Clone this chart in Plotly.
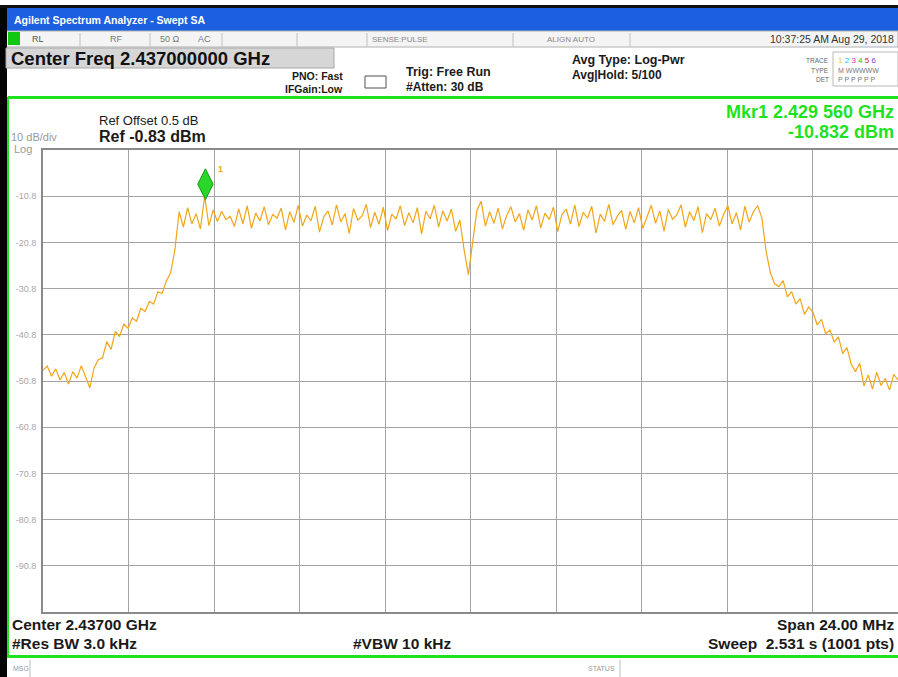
import plotly.graph_objects as go
import numpy as np

# --- analyzer settings -------------------------------------------------------
CENTER_GHZ = 2.437
SPAN_GHZ = 0.024
REF_DBM = -0.83
DB_PER_DIV = 10
MKR_FREQ = 2.42956
MKR_LEVEL = -10.832

# trace readings (dBm), 201 points over the span
EDGE_LEFT = [-48.5, -47.6, -49.8, -48.2, -50.6, -49.0, -51.5, -48.8, -50.2, -47.5,
             -49.9, -52.3, -48.0, -46.2]
SKIRT_LEFT = [-45.8, -42.3, -44.0, -40.1, -41.2, -38.5, -39.4, -37.2, -37.9, -35.1,
              -35.8, -33.6, -34.2, -31.5, -31.9, -29.2, -27.4, -22.5]
BAND_LOW = [-14.2, -17.5, -13.3, -16.8, -14.6, -17.9, -10.832, -17.2, -13.8,
            -16.3, -14.1, -15.9, -15.2, -17.4, -13.6, -16.8, -12.9, -17.8, -14.5,
            -16.2, -13.1, -17.0, -14.8, -15.6, -13.4, -18.1, -14.2, -16.5, -12.8,
            -17.3, -14.9, -16.1, -13.0, -18.6, -15.3, -14.0, -17.1, -12.7, -16.4,
            -14.6, -18.9, -13.5, -16.0, -15.1, -12.6, -17.6, -14.3, -16.9, -13.2,
            -18.3, -14.7, -15.8, -12.9, -17.2, -14.4, -16.6, -13.3, -19.0, -14.1,
            -15.7, -12.8, -17.5, -14.0, -16.2, -13.6, -18.4, -16.0]
CENTER_NOTCH = [-22.5, -27.8, -21.0]
BAND_HIGH = [-13.9, -11.9, -17.3, -14.2, -16.7, -13.4, -17.9, -15.0, -13.1, -16.4,
             -14.6, -18.2, -13.8, -16.0, -12.9, -17.7, -14.5, -15.9, -13.2, -18.5,
             -14.8, -13.6, -16.9, -12.7, -17.4, -14.3, -15.6, -13.0, -18.8, -14.7,
             -16.3, -12.6, -17.0, -15.2, -13.9, -18.0, -14.1, -16.6, -13.3, -17.8,
             -15.4, -12.8, -16.7, -14.0, -18.4, -13.7, -15.8, -14.9, -12.7, -17.5,
             -14.2, -16.1, -13.1, -18.7, -14.6, -15.9, -13.4, -17.3, -14.8, -12.9,
             -16.8, -14.4, -18.1, -13.0, -16.5, -14.2, -12.9, -15.5]
SKIRT_RIGHT = [-22.8, -27.4, -29.8, -30.4, -29.1, -32.6, -31.5, -34.2, -33.0, -36.4,
               -34.8, -35.9, -38.7, -37.5, -40.6, -39.8, -42.4, -41.3, -44.9, -43.6,
               -47.2, -48.8, -47.0, -51.9, -49.5, -52.6, -48.9, -51.8, -50.3, -52.8,
               -49.4, -50.6]

level = EDGE_LEFT + SKIRT_LEFT + BAND_LOW + CENTER_NOTCH + BAND_HIGH + SKIRT_RIGHT
f_start = CENTER_GHZ - SPAN_GHZ / 2
f_stop = CENTER_GHZ + SPAN_GHZ / 2
freq = np.linspace(f_start, f_stop, len(level))

y_top = REF_DBM
y_bot = REF_DBM - 10 * DB_PER_DIV
grid_vals = [REF_DBM - DB_PER_DIV * k for k in range(1, 10)]
grid_text = [f"{v:.1f}" for v in grid_vals]

# --- page geometry (pixels) --------------------------------------------------
W, H = 898, 677
PL, PR, PT, PB = 43, 898, 150, 612

GREEN = "#1fe21f"
TXT = "#1a1a1a"
FONT = "Liberation Sans, Arial, sans-serif"


def px(x):
    return (x - PL) / (PR - PL)


def py(y):
    return (PB - y) / (PB - PT)


def rect(x0, y0, x1, y1, fill, line=None, lw=0):
    return dict(type="rect", xref="paper", yref="paper",
                x0=px(x0), x1=px(x1), y0=py(y1), y1=py(y0),
                fillcolor=fill, line=dict(color=line or fill, width=lw), layer="below")


def text(x, y, s, size=11, color=TXT, bold=False, anchor="left"):
    if bold:
        s = f"<b>{s}</b>"
    return dict(xref="paper", yref="paper", x=px(x), y=py(y), text=s, showarrow=False,
                xanchor=anchor, yanchor="middle",
                font=dict(family=FONT, size=size, color=color))


fig = go.Figure()
fig.add_trace(go.Scatter(x=freq, y=level, mode="lines",
                         line=dict(color="#f2a516", width=1.2), hoverinfo="skip"))

# marker diamond sits just above the peak
lift = 12 * (10 * DB_PER_DIV) / (PB - PT)
fig.add_trace(go.Scatter(x=[MKR_FREQ], y=[MKR_LEVEL + lift], mode="markers",
                         marker=dict(symbol="diamond-tall", size=22, color="#2bd62b",
                                     line=dict(color="#139a13", width=1))))

shapes = [
    # title bar and frame
    rect(0, 0, W, 5, "#ffffff"),
    rect(0, 5, W, 8, "#101010"),
    rect(0, 8, W, 31, "#1c5fe0"),
    rect(0, 31, W, 47, "#f4f4f4", "#b0b0b0", 1),
    rect(0, 8, 7, H, "#050505"),
    rect(8, 32, 20, 45, "#11c811"),
    rect(6, 48, 334, 68, "#d6d6d6", "#a8a8a8", 1),
    rect(7, 97, 9, 658, GREEN),
    rect(8, 96, W, 99, GREEN),
    rect(8, 655, W, 658, GREEN),
    rect(833, 52, 898, 86, "#ffffff", "#b8b8b8", 1),
    rect(365, 76, 386, 88, "#ffffff", "#505050", 1),
]
for sx in [80, 150, 222, 297, 367, 513, 630]:
    shapes.append(dict(type="line", xref="paper", yref="paper", x0=px(sx), x1=px(sx),
                       y0=py(33), y1=py(46), line=dict(color="#c0c0c0", width=1)))
for sx in [30, 620]:
    shapes.append(dict(type="line", xref="paper", yref="paper", x0=px(sx), x1=px(sx),
                       y0=py(660), y1=py(677), line=dict(color="#c0c0c0", width=1)))

ann = [
    text(12, 20, "Agilent Spectrum Analyzer - Swept SA", 10.5, "#ffffff", True),
    text(30, 39, "RL", 9, "#555555"),
    text(108, 39, "RF", 9, "#777777"),
    text(158, 39, "50 Ω", 9, "#777777"),
    text(196, 39, "AC", 9, "#777777"),
    text(370, 39, "SENSE:PULSE", 8, "#888888"),
    text(545, 39, "ALIGN AUTO", 8, "#888888"),
    text(896, 39, "10:37:25 AM Aug 29, 2018", 10.5, "#333333", anchor="right"),
    text(9, 58, "Center Freq 2.437000000 GHz", 18.5, "#111111", True),
    text(345, 76, "PNO: Fast", 10.5, TXT, True, "right"),
    text(345, 89, "IFGain:Low", 10.5, TXT, True, "right"),
    text(404, 72, "Trig: Free Run", 12.5, TXT, True),
    text(404, 87, "#Atten: 30 dB", 12, TXT, True),
    text(570, 60, "Avg Type: Log-Pwr", 12.5, TXT, True),
    text(570, 75, "Avg|Hold: 5/100", 12, TXT, True),
    text(831, 61, "TRACE", 6.5, "#666666", anchor="right"),
    text(831, 70, "TYPE", 6.5, "#666666", anchor="right"),
    text(831, 80, "DET", 6.5, "#666666", anchor="right"),
    text(836, 61, "<span style='color:#e8d020'>1</span> <span style='color:#20c8e8'>2</span> "
                  "<span style='color:#e020c0'>3</span> <span style='color:#20c020'>4</span> "
                  "<span style='color:#d02020'>5</span> <span style='color:#8040d0'>6</span>", 8),
    text(836, 70, "M WWWWW", 7, "#777777"),
    text(836, 80, "P P P P P P", 7, "#777777"),
    text(97, 121, "Ref Offset 0.5 dB", 13, TXT),
    text(97, 137, "Ref -0.83 dBm", 16, TXT, True),
    text(9, 137, "10 dB/div", 11, "#999999"),
    text(12, 149, "Log", 11, "#999999"),
    text(896, 112, "Mkr1 2.429 560 GHz", 18, GREEN, True, "right"),
    text(896, 132, "-10.832 dBm", 18, GREEN, True, "right"),
    text(216, 169, "1", 9, "#f2a516", True),
    text(10, 624, "Center 2.43700 GHz", 15.5, TXT, True),
    text(10, 643, "#Res BW 3.0 kHz", 15.5, TXT, True),
    text(351, 643, "#VBW 10 kHz", 15.5, TXT, True),
    text(896, 624, "Span 24.00 MHz", 15.5, TXT, True, "right"),
    text(896, 643, "Sweep  2.531 s (1001 pts)", 15.5, TXT, True, "right"),
    text(11, 668, "MSG", 7, "#999999"),
    text(617, 668, "STATUS", 7, "#999999", anchor="right"),
]

fig.update_layout(
    width=W, height=H, autosize=False, showlegend=False,
    margin=dict(l=PL, r=W - PR, t=PT, b=H - PB, pad=0),
    paper_bgcolor="#ffffff", plot_bgcolor="#ffffff",
    shapes=shapes, annotations=ann,
    xaxis=dict(range=[f_start, f_stop], tick0=f_start, dtick=SPAN_GHZ / 10,
               showticklabels=False, ticks="", showgrid=True, gridcolor="#a4a4a4",
               gridwidth=1.2, zeroline=False, showline=True, linecolor="#8a8a8a",
               linewidth=2, mirror=True, automargin=False),
    yaxis=dict(range=[y_bot, y_top], tickvals=grid_vals, ticktext=grid_text,
               tickfont=dict(family=FONT, size=9, color="#a8a8a8"), ticks="",
               showgrid=True, gridcolor="#a4a4a4", gridwidth=1.2, zeroline=False,
               showline=True, linecolor="#8a8a8a", linewidth=2, mirror=True,
               automargin=False, ticklabelstandoff=3),
)

# page without body margin / scrollbars so the figure sits at the window origin
fig.write_html("out.html", config={"displayModeBar": False},
               post_script="document.body.style.margin='0';"
                           "document.body.style.overflow='hidden';")
